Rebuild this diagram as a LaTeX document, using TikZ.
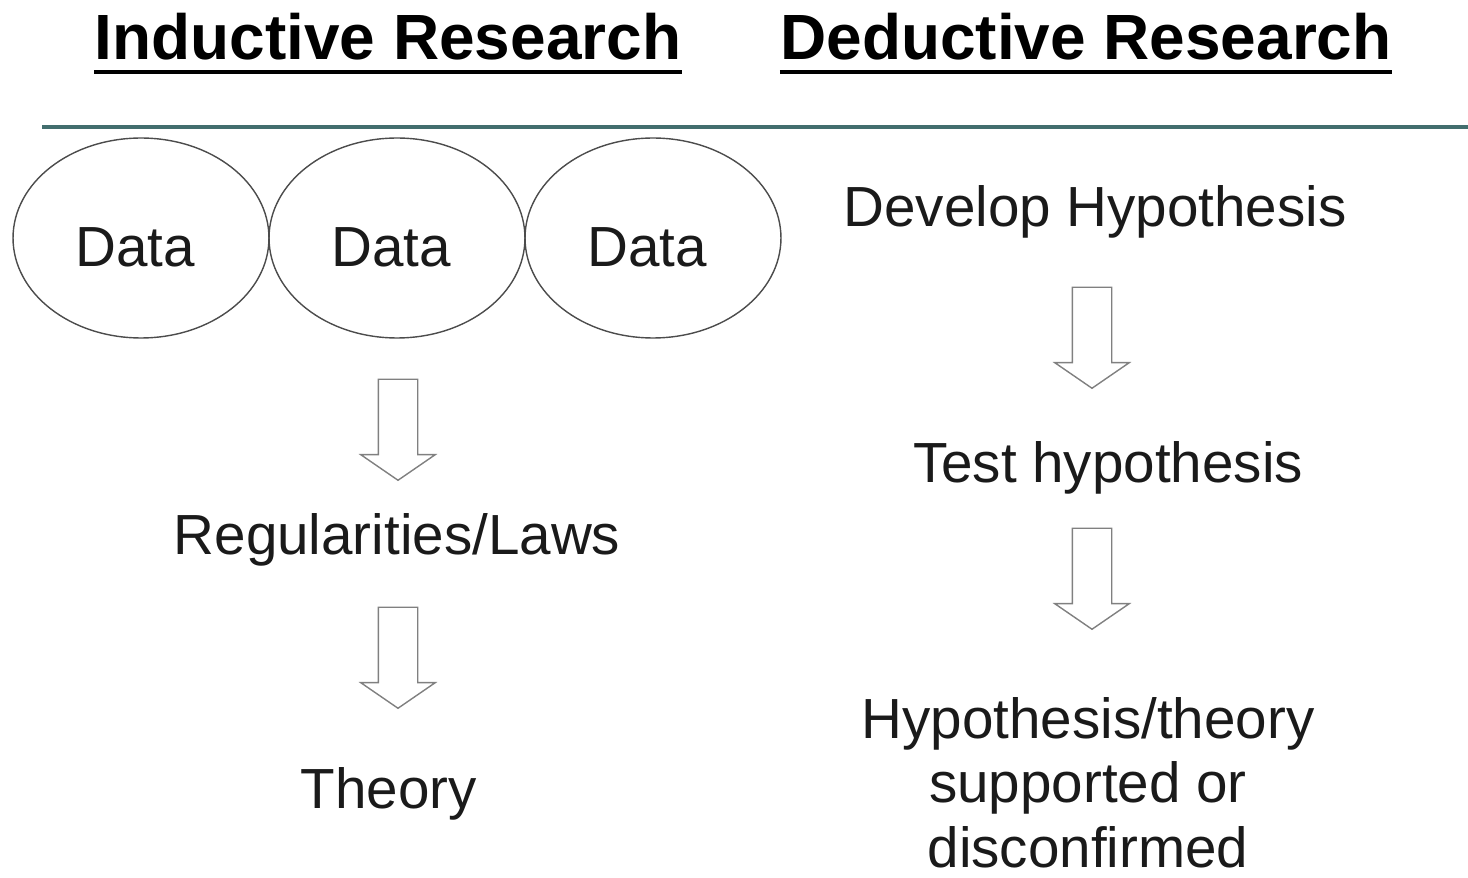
\documentclass[tikz,border=0pt]{standalone}
\usepackage{fontspec}
\setmainfont{Liberation Sans}
\usetikzlibrary{shapes.geometric,shapes.arrows}

\definecolor{rulecol}{RGB}{66,110,110}
\definecolor{inkcol}{RGB}{26,26,26}

\tikzstyle{title}=[font=\fontsize{36.4}{43}\selectfont\bfseries, text=black, inner sep=0pt, anchor=base]
\tikzstyle{txt}=[font=\fontsize{32.2}{36.6}\selectfont, text=inkcol, inner sep=0pt, anchor=base, align=center]
\tikzstyle{data}=[ellipse, draw=black!70, line width=0.8pt, minimum width=5.12cm, minimum height=4cm, inner sep=0pt, text height=1.15cm, font=\fontsize{32.2}{36.6}\selectfont, text=inkcol, execute at begin node={\hspace*{-0.24cm}}]
\tikzstyle{downarrow}=[single arrow, draw=black!50, line width=0.8pt, rotate=-90, minimum height=2.02cm, inner xsep=0pt, inner ysep=0.38cm, single arrow head extend=0.35cm, single arrow tip angle=111]
\tikzstyle{uline}=[draw=black, line width=2.4pt]
\tikzstyle{sep}=[draw=rulecol, line width=2.8pt]

\begin{document}
\begin{tikzpicture}[x=0.02cm, y=-0.02cm]
		\useasboundingbox (0,0) rectangle (1468,878);

		% headings
		\node [title] (ind)  at (388, 60)  {Inductive Research};
		\node [title] (ded)  at (1086, 60) {Deductive Research};
		\draw [uline] ([yshift=-0.22cm]ind.south west) -- ([yshift=-0.22cm]ind.south east);
		\draw [uline] ([yshift=-0.22cm]ded.south west) -- ([yshift=-0.22cm]ded.south east);
		\coordinate (rl) at (42, 127);
		\coordinate (rr) at (1468, 127);
		\draw [sep] (rl) -- (rr);

		% inductive side
		\node [data]      (data1)   at (141, 238)  {Data};
		\node [data]      (data2)   at (397, 238)  {Data};
		\node [data]      (data3)   at (653, 238)  {Data};
		\node [downarrow] (arrL1)   at (398, 423)  {};
		\node [txt]       (regul)   at (397, 555)  {Regularities/Laws};
		\node [downarrow] (arrL2)   at (398, 651)  {};
		\node [txt]       (theory)  at (389, 808)  {Theory};

		% deductive side
		\node [txt]       (develop) at (1095, 227) {Develop Hypothesis};
		\node [downarrow] (arrR1)   at (1092, 331) {};
		\node [txt]       (test)    at (1108, 483) {Test hypothesis};
		\node [downarrow] (arrR2)   at (1092, 572) {};
		\node [txt]       (result)  at (1088, 867) {Hypothesis/theory\\supported or\\disconfirmed};
	\end{tikzpicture}
\end{document}
